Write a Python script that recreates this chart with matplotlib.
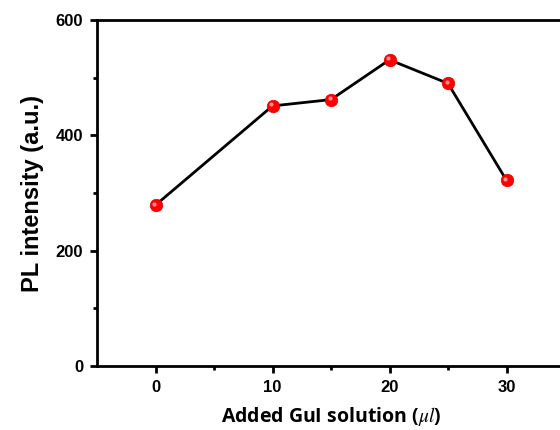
import matplotlib.pyplot as plt
from matplotlib.transforms import ScaledTranslation

volume = [0, 10, 15, 20, 25, 30]
intensity = [279, 451, 462, 531, 490, 322]

plt.rcParams["mathtext.fontset"] = "stix"

fig = plt.figure(figsize=(5.6, 4.3), dpi=100)
ax = fig.add_axes([97 / 560, 64 / 430, 468 / 560, 346 / 430])

ax.plot(volume, intensity, color="black", lw=2, zorder=2)
ax.plot(volume, intensity, "o", ms=9, color="#ff0000", mec="#e00000", mew=0.5, zorder=3)
# small highlight to give the sphere look
shift = ax.transData + ScaledTranslation(-1.5 / 100, 1.5 / 100, fig.dpi_scale_trans)
ax.plot(volume, intensity, "o", ms=3, color="#ff9090", mec="none", zorder=4, transform=shift)

ax.set_xlim(-5, 35)
ax.set_ylim(0, 600)
ax.set_xticks([0, 10, 20, 30])
ax.set_xticks([5, 15, 25], minor=True)
ax.set_yticks([0, 200, 400, 600])
ax.set_yticks([100, 300, 500], minor=True)

for s in ax.spines.values():
    s.set_linewidth(2)
ax.spines["right"].set_visible(False)
ax.tick_params(which="both", direction="out", width=2, top=False, right=False)
ax.tick_params(which="major", length=5, labelsize=12, pad=5)
ax.tick_params(which="minor", length=3)
for lab in ax.get_xticklabels() + ax.get_yticklabels():
    lab.set_fontweight("bold")
    lab.set_family("Liberation Sans")

ax.set_ylabel("PL intensity (a.u.)", fontsize=17, fontweight="bold",
              family="Liberation Sans", labelpad=8)
ax.set_xlabel(r"Added GuI solution ($\mu l$)", fontsize=14, fontweight="bold",
              family="Open Sans", labelpad=7)

fig.savefig("out.png", dpi=100)
